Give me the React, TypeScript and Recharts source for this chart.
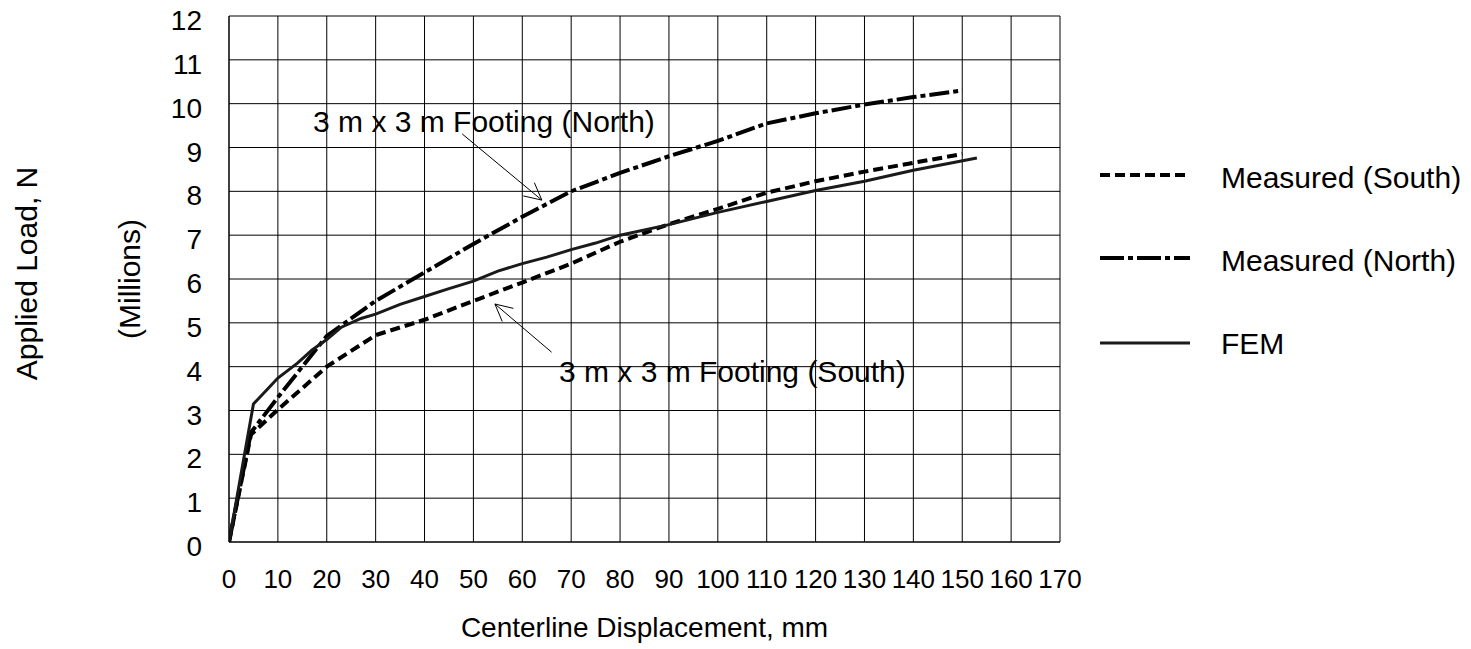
import React from 'react';
import {
  LineChart,
  Line,
  XAxis,
  YAxis,
  CartesianGrid,
  Legend,
  ReferenceLine,
  ReferenceDot,
  Label,
} from 'recharts';

const FONT = '"Liberation Sans", Arial, Helvetica, sans-serif';

// ---- axis ticks ----
const xTicks = [0, 10, 20, 30, 40, 50, 60, 70, 80, 90, 100, 110, 120, 130, 140, 150, 160, 170];
const yTicks = [0, 1, 2, 3, 4, 5, 6, 7, 8, 9, 10, 11, 12];

// ---- series: Measured (South) ----
const southX = [0, 4.5, 10, 20, 30, 40, 50, 60, 70, 80, 90, 100, 110, 120, 130, 140, 150];
const southY = [0, 2.45, 3.02, 4.0, 4.72, 5.07, 5.5, 5.92, 6.35, 6.85, 7.25, 7.6, 7.97, 8.23, 8.45, 8.65, 8.85];

// ---- series: Measured (North) ----
const northX = [0, 4.5, 10, 20, 25, 30, 40, 50, 60, 70, 80, 90, 100, 110, 120, 130, 140, 150];
const northY = [0, 2.5, 3.3, 4.7, 5.1, 5.5, 6.15, 6.8, 7.42, 8.0, 8.42, 8.8, 9.15, 9.55, 9.78, 9.98, 10.15, 10.3];

// ---- series: FEM ----
const femX = [0, 5, 8, 10, 14, 17, 20, 23, 27, 30, 35, 40, 45, 50, 55, 60, 65, 70, 75, 80, 90, 100, 110, 120, 130, 140, 153];
const femY = [0, 3.15, 3.5, 3.74, 4.08, 4.38, 4.62, 4.9, 5.1, 5.2, 5.42, 5.6, 5.78, 5.95, 6.18, 6.35, 6.5, 6.67, 6.82, 7.0, 7.24, 7.52, 7.77, 8.02, 8.23, 8.48, 8.76];

const seriesNames = ['Measured (South)', 'Measured (North)', 'FEM'];

// ---- annotations (data coordinates) ----
const annotationLabels = ['3 m x 3 m Footing (North)', '3 m x 3 m Footing (South)'];
const annotationTextX = [17.2, 67.5];
const annotationTextY = [9.36, 3.66];
const arrowTailX = [47.7, 66.0];
const arrowTailY = [9.31, 4.33];
const arrowTipX = [64.0, 54.4];
const arrowTipY = [7.8, 5.43];

const toPoints = (xs: number[], ys: number[]) => xs.map((x, i) => ({ x, y: ys[i] }));

const southData = toPoints(southX, southY);
const northData = toPoints(northX, northY);
const femData = toPoints(femX, femY);

const seriesStyle: Record<string, { width: number; dash?: string; legendDash?: string; color: string }> = {
  'Measured (South)': { width: 4, dash: '10 5', legendDash: '10 5', color: '#000' },
  'Measured (North)': { width: 4, dash: '20 4 5 4', legendDash: '24 4 5 4', color: '#000' },
  FEM: { width: 3, color: '#1a1a1a' },
};

const XTick = (props: any) => {
  const { x, y, payload } = props;
  return (
    <text x={x} y={y + 46} textAnchor="middle" fontFamily={FONT} fontSize={26} fill="#000">
      {payload.value}
    </text>
  );
};

const YTick = (props: any) => {
  const { x, y, payload } = props;
  return (
    <text x={x - 27} y={y + 14} textAnchor="end" fontFamily={FONT} fontSize={28} fill="#000">
      {payload.value}
    </text>
  );
};

const ArrowShape = (props: any) => {
  const { x1, y1, x2, y2 } = props;
  const ang = Math.atan2(y2 - y1, x2 - x1);
  const L = 19;
  const a = (27 * Math.PI) / 180;
  const b1x = x2 - L * Math.cos(ang - a);
  const b1y = y2 - L * Math.sin(ang - a);
  const b2x = x2 - L * Math.cos(ang + a);
  const b2y = y2 - L * Math.sin(ang + a);
  return (
    <g>
      <line x1={x1} y1={y1} x2={x2} y2={y2} stroke="#000" strokeWidth={1} />
      <polyline
        points={`${b1x},${b1y} ${x2},${y2} ${b2x},${b2y}`}
        fill="none"
        stroke="#000"
        strokeWidth={1}
      />
    </g>
  );
};

const makeTextShape = (text: string) => (props: any) => (
  <text x={props.cx} y={props.cy} fontFamily={FONT} fontSize={30} fill="#000">
    {text}
  </text>
);

const legendLineY = [35, 118, 203];
const legendTextY = [47.7, 130.7, 214.3];

const LegendContent = () => (
  <svg width={381} height={240} style={{ display: 'block', overflow: 'visible' }}>
    {seriesNames.map((name, i) => {
      const st = seriesStyle[name];
      return (
        <g key={name}>
          <line
            x1={10}
            x2={100}
            y1={legendLineY[i]}
            y2={legendLineY[i]}
            stroke={st.color}
            strokeWidth={st.width}
            strokeDasharray={st.legendDash}
          />
          <text x={131} y={legendTextY[i]} fontFamily={FONT} fontSize={30} fill="#000">
            {name}
          </text>
        </g>
      );
    })}
  </svg>
);

export default function App() {
  return (
    <div style={{ width: 1471, height: 649, background: '#fff' }}>
      <style>{'body{margin:0;background:#fff;}'}</style>
      <LineChart width={1471} height={649} margin={{ top: 16, right: 411, bottom: 0, left: 0 }}>
        <CartesianGrid stroke="#000" strokeWidth={1} />
        <XAxis
          dataKey="x"
          type="number"
          domain={[0, 170]}
          ticks={xTicks}
          interval={0}
          height={107}
          tickSize={0}
          tickMargin={0}
          axisLine={{ stroke: '#000' }}
          tickLine={false}
          tick={<XTick />}
          allowDataOverflow
        >
          <Label
            content={(p: any) => (
              <text
                x={p.viewBox.x + p.viewBox.width / 2}
                y={637}
                textAnchor="middle"
                fontFamily={FONT}
                fontSize={28}
                fill="#000"
              >
                Centerline Displacement, mm
              </text>
            )}
          />
        </XAxis>
        <YAxis
          type="number"
          domain={[0, 12]}
          ticks={yTicks}
          interval={0}
          width={229}
          tickSize={0}
          tickMargin={0}
          axisLine={{ stroke: '#000' }}
          tickLine={false}
          tick={<YTick />}
          allowDataOverflow
        >
          <Label
            content={() => (
              <g>
                <text
                  x={37}
                  y={273.5}
                  transform="rotate(-90 37 273.5)"
                  textAnchor="middle"
                  fontFamily={FONT}
                  fontSize={30}
                  fill="#000"
                >
                  Applied Load, N
                </text>
                <text
                  x={140}
                  y={279}
                  transform="rotate(-90 140 279)"
                  textAnchor="middle"
                  fontFamily={FONT}
                  fontSize={30}
                  fill="#000"
                >
                  (Millions)
                </text>
              </g>
            )}
          />
        </YAxis>
        <Legend
          layout="horizontal"
          align="center"
          verticalAlign="middle"
          wrapperStyle={{ left: 1090, top: 140, width: 381, height: 240 }}
          content={<LegendContent />}
        />
        {annotationLabels.map((t, i) => (
          <ReferenceLine
            key={`arrow-${i}`}
            segment={[
              { x: arrowTailX[i], y: arrowTailY[i] },
              { x: arrowTipX[i], y: arrowTipY[i] },
            ]}
            shape={ArrowShape}
          />
        ))}
        {annotationLabels.map((t, i) => (
          <ReferenceDot
            key={`text-${i}`}
            x={annotationTextX[i]}
            y={annotationTextY[i]}
            r={1}
            shape={makeTextShape(t)}
          />
        ))}
        <Line
          data={southData}
          dataKey="y"
          name={seriesNames[0]}
          type="linear"
          stroke={seriesStyle[seriesNames[0]].color}
          strokeWidth={seriesStyle[seriesNames[0]].width}
          strokeDasharray={seriesStyle[seriesNames[0]].dash}
          dot={false}
          activeDot={false}
          isAnimationActive={false}
        />
        <Line
          data={northData}
          dataKey="y"
          name={seriesNames[1]}
          type="linear"
          stroke={seriesStyle[seriesNames[1]].color}
          strokeWidth={seriesStyle[seriesNames[1]].width}
          strokeDasharray={seriesStyle[seriesNames[1]].dash}
          dot={false}
          activeDot={false}
          isAnimationActive={false}
        />
        <Line
          data={femData}
          dataKey="y"
          name={seriesNames[2]}
          type="linear"
          stroke={seriesStyle[seriesNames[2]].color}
          strokeWidth={seriesStyle[seriesNames[2]].width}
          dot={false}
          activeDot={false}
          isAnimationActive={false}
        />
      </LineChart>
    </div>
  );
}
